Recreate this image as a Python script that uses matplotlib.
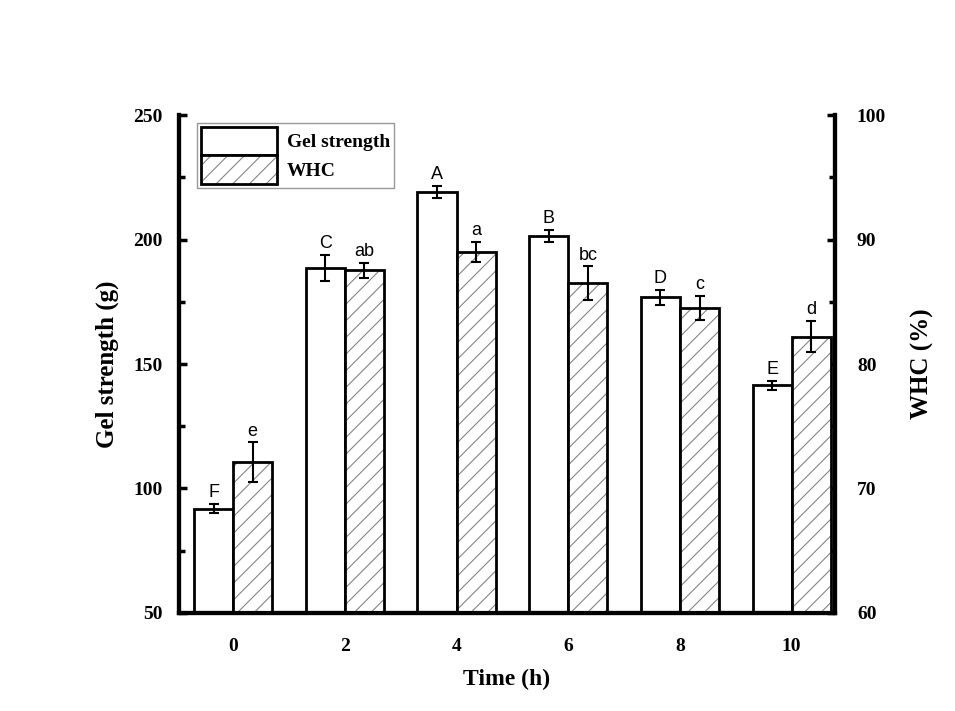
import matplotlib
matplotlib.use("Agg")
import matplotlib.pyplot as plt
from matplotlib.patches import Patch
from matplotlib.ticker import MultipleLocator

time_h = [0, 2, 4, 6, 8, 10]
gel = [91.9, 188.7, 219.2, 201.5, 176.8, 141.4]
gel_err = [1.8, 5.2, 2.3, 2.5, 3.1, 1.7]
gel_letters = ["F", "C", "A", "B", "D", "E"]
whc = [72.1, 87.55, 89.0, 86.5, 84.5, 82.2]
whc_err = [1.6, 0.6, 0.83, 1.35, 1.0, 1.25]
whc_letters = ["e", "ab", "a", "bc", "c", "d"]

plt.rcParams['font.family'] = ['Liberation Serif', 'DejaVu Serif']
plt.rcParams['font.weight'] = 'bold'
plt.rcParams['hatch.linewidth'] = 0.8

sans = ['Liberation Sans', 'DejaVu Sans']
hatch_col = '#858585'

fig = plt.figure(figsize=(9.55, 7.11), dpi=100)
ax = fig.add_axes([0.1874, 0.138, 0.6866, 0.700])
ax2 = ax.twinx()

w = 0.7
ax.bar([t - w for t in time_h], gel, width=w, align='edge', facecolor='white',
       edgecolor='black', linewidth=2, zorder=2)
ax.errorbar([t - w / 2 for t in time_h], gel, yerr=gel_err, fmt='none',
            ecolor='black', elinewidth=1.5, capsize=3.5, capthick=1.5, zorder=3)
for t, v, e, s in zip(time_h, gel, gel_err, gel_letters):
    ax.annotate(s, (t - w / 2, v + e), xytext=(0, 2), textcoords='offset points',
                ha='center', va='bottom', fontsize=13, family=sans, fontweight='normal')

# grey hatch first, black outline on top
ax2.bar(time_h, whc, width=w, align='edge', facecolor='white', hatch='//',
        edgecolor=hatch_col, linewidth=0, zorder=2)
ax2.bar(time_h, whc, width=w, align='edge', fill=False,
        edgecolor='black', linewidth=2, zorder=2.1)
ax2.errorbar([t + w / 2 for t in time_h], whc, yerr=whc_err, fmt='none',
             ecolor='black', elinewidth=1.5, capsize=3.5, capthick=1.5, zorder=3)
for t, v, e, s in zip(time_h, whc, whc_err, whc_letters):
    ax2.annotate(s, (t + w / 2, v + e), xytext=(0, 2), textcoords='offset points',
                 ha='center', va='bottom', fontsize=13, family=sans, fontweight='normal')

ax.set_xlim(-0.97, 10.77)
ax.set_ylim(50, 250)
ax2.set_ylim(60, 100)
ax.set_xticks(time_h)
ax.yaxis.set_major_locator(MultipleLocator(50))
ax.yaxis.set_minor_locator(MultipleLocator(25))
ax2.yaxis.set_major_locator(MultipleLocator(10))
ax2.yaxis.set_minor_locator(MultipleLocator(5))

for a in (ax, ax2):
    a.spines['top'].set_visible(False)
    for sp in ('left', 'right', 'bottom'):
        a.spines[sp].set_linewidth(3)
    a.tick_params(which='major', direction='in', length=6, width=2.5, pad=12,
                  labelsize=14)
    a.tick_params(which='minor', direction='in', length=4, width=2.5)
ax.tick_params(axis='x', length=0, pad=18)
ax2.tick_params(axis='y', which='major', pad=16)

ax.set_xlabel("Time (h)", fontweight='bold', fontsize=17, labelpad=10)
ax.set_ylabel("Gel strength (g)", fontweight='bold', fontsize=18, labelpad=10)
ax2.set_ylabel("WHC (%)", fontweight='bold', fontsize=18, labelpad=18)

gel_handle = Patch(facecolor='white', edgecolor='black', linewidth=2)
whc_handle = (Patch(facecolor='white', edgecolor=hatch_col, linewidth=0, hatch='//'),
              Patch(fill=False, edgecolor='black', linewidth=2))
leg = ax2.legend([gel_handle, whc_handle], ["Gel strength", "WHC"], loc='upper left',
                 bbox_to_anchor=(0.028, 0.985), frameon=True, fancybox=False,
                 handlelength=3.9, handleheight=1.9, handletextpad=0.5,
                 labelspacing=0.0, borderpad=0.2, borderaxespad=0,
                 prop={'weight': 'bold', 'size': 14})
leg.get_frame().set_edgecolor('#808080')
leg.get_frame().set_linewidth(1)

fig.savefig("out.png", dpi=100, facecolor='white')
